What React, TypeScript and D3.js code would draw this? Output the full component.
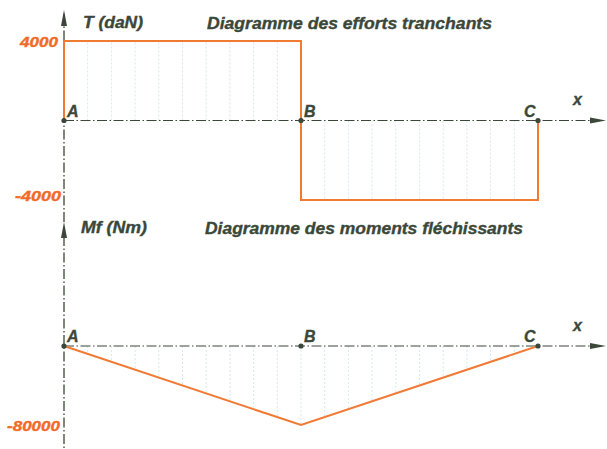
import * as d3 from "d3";

// points along the beam
const pointNames = ["A", "B", "C"];
const pointPos = [0, 1, 2];

// shear force T (daN): step values on each span
const shearX = [0, 0, 1, 1, 2, 2];
const shearT = [0, 4000, 4000, -4000, -4000, 0];
const shearTicks = [4000, -4000];

// bending moment Mf (Nm)
const momentX = [0, 1, 2];
const momentMf = [0, -80000, 0];
const momentTicks = [-80000];

const W = 607;
const H = 449;
const ink = "#3b4738";
const orange = "#f07a32";
const labelOrange = "#f26a28";
const font = "'Liberation Sans', Arial, sans-serif";

const axisLeft = 64;
const axisEnd = 606;

const x = d3.scaleLinear().domain([0, 2]).range([axisLeft, 538]);
const yT = d3.scaleLinear().domain([-4000, 4000]).range([200, 41]);
const yM = d3.scaleLinear().domain([-80000, 0]).range([425, 346]);

const dash = "10 2.5 1.5 2.5";

const Arrow = ({ x0, y0, dir }: { x0: number; y0: number; dir: "up" | "right" }) =>
  dir === "up" ? (
    <path d={`M${x0},${y0} L${x0 - 3},${y0 + 16} L${x0 + 3},${y0 + 16} Z`} fill={ink} />
  ) : (
    <path d={`M${x0},${y0} L${x0 - 16},${y0 - 3} L${x0 - 16},${y0 + 3} Z`} fill={ink} />
  );

const hatch = (vals: (t: number) => number, y: d3.ScaleLinear<number, number>) =>
  d3.range(0, 2.0001, 0.1).map((t, i) => (
    <line key={i} x1={x(t)} x2={x(t)} y1={y(0)} y2={vals(t)} stroke="#b9d3e6" strokeWidth={0.8} strokeDasharray="2 2" opacity={0.7} />
  ));

// label widths measured on the reference (its font is wider than Arial)
const tickLen: Record<number, number> = { 4000: 38, [-4000]: 46, [-80000]: 53 };

export default function App() {
  const shearLine = d3.line<number>().x((_, i) => x(shearX[i])).y((d) => yT(d));
  const momentLine = d3.line<number>().x((_, i) => x(momentX[i])).y((d) => yM(d));
  const tAt = (t: number) => (t < 1 ? yT(shearT[1]) : yT(shearT[3]));
  const mInterp = d3.scaleLinear().domain(momentX).range(momentMf);
  const mAt = (t: number) => yM(mInterp(t));
  const yT0 = yT(0);
  const yM0 = yM(0);

  const textStyle = { fontFamily: font, fontWeight: "bold" as const, fontStyle: "italic" as const, strokeWidth: 0.35 };
  const stretch = { lengthAdjust: "spacingAndGlyphs" as const };

  return (
    <svg width={W} height={H} style={{ position: "absolute", left: 0, top: 0, background: "#fff" }}>
      <g>{hatch(tAt, yT)}</g>
      <g>{hatch(mAt, yM)}</g>

      {/* vertical axes */}
      <line x1={axisLeft} x2={axisLeft} y1={14} y2={222} stroke={ink} strokeWidth={1.3} strokeDasharray={dash} />
      <line x1={axisLeft} x2={axisLeft} y1={236} y2={449} stroke={ink} strokeWidth={1.3} strokeDasharray={dash} />
      <Arrow x0={axisLeft} y0={10} dir="up" />
      <Arrow x0={axisLeft} y0={222} dir="up" />

      {/* horizontal axes */}
      <line x1={axisLeft} x2={axisEnd - 10} y1={yT0} y2={yT0} stroke={ink} strokeWidth={1} strokeDasharray={dash} />
      <line x1={axisLeft} x2={axisEnd - 10} y1={yM0} y2={yM0} stroke={ink} strokeWidth={1} strokeDasharray={dash} />
      <Arrow x0={axisEnd} y0={yT0} dir="right" />
      <Arrow x0={axisEnd} y0={yM0} dir="right" />

      {/* diagrams */}
      <path d={shearLine(shearT) ?? ""} fill="none" stroke={orange} strokeWidth={2} />
      <path d={momentLine(momentMf) ?? ""} fill="none" stroke={orange} strokeWidth={2} />

      {/* points */}
      {pointPos.map((p, i) => (
        <g key={pointNames[i]}>
          <circle cx={x(p)} cy={yT0} r={2.6} fill={ink} />
          <circle cx={x(p)} cy={yM0} r={2.6} fill={ink} />
          <text x={i === 2 ? x(p) - 14 : x(p) + 3} y={yT0 - 4} fontSize={16} fill={ink} stroke={ink} {...textStyle}>{pointNames[i]}</text>
          <text x={i === 2 ? x(p) - 14 : x(p) + 3} y={yM0 - 4} fontSize={16} fill={ink} stroke={ink} {...textStyle}>{pointNames[i]}</text>
        </g>
      ))}
      <text x={573} y={105} fontSize={16} fill={ink} stroke={ink} {...textStyle}>x</text>
      <text x={573} y={331} fontSize={16} fill={ink} stroke={ink} {...textStyle}>x</text>

      {/* tick labels */}
      {shearTicks.map((t) => (
        <text key={t} x={t > 0 ? 58 : 61} y={t > 0 ? 47 : 201} textAnchor="end" fontSize={14} fill={labelOrange} stroke={labelOrange}
          textLength={tickLen[t]} {...stretch} {...textStyle}>{t}</text>
      ))}
      {momentTicks.map((t) => (
        <text key={t} x={60} y={yM(t) + 6} textAnchor="end" fontSize={14} fill={labelOrange} stroke={labelOrange}
          textLength={tickLen[t]} {...stretch} {...textStyle}>{t}</text>
      ))}

      {/* titles */}
      <text x={83} y={28} fontSize={16} fill={ink} stroke={ink} textLength={60} {...stretch} {...textStyle}>T (daN)</text>
      <text x={207} y={29} fontSize={16} fill={ink} stroke={ink} textLength={285} {...stretch} {...textStyle}>Diagramme des efforts tranchants</text>
      <text x={81} y={233} fontSize={16} fill={ink} stroke={ink} textLength={66} {...stretch} {...textStyle}>Mf (Nm)</text>
      <text x={205} y={234} fontSize={16} fill={ink} stroke={ink} textLength={318} {...stretch} {...textStyle}>Diagramme des moments fléchissants</text>
    </svg>
  );
}
